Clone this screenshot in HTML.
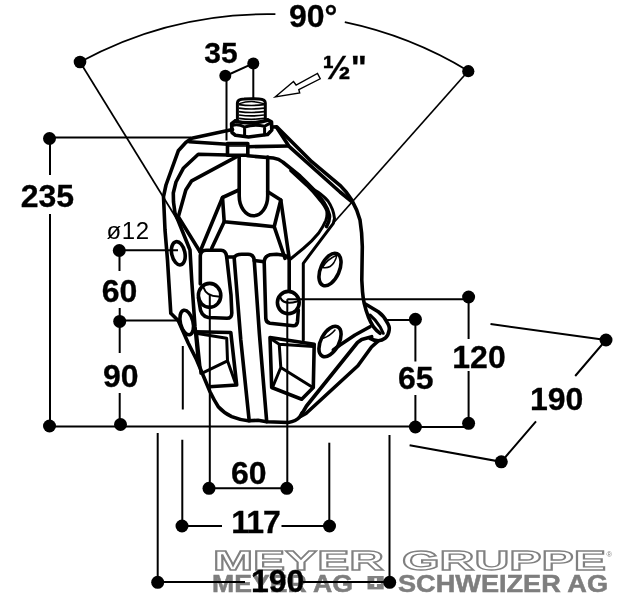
<!DOCTYPE html>
<html><head><meta charset="utf-8">
<style>
html,body{margin:0;padding:0;background:#fff;}
svg{display:block;will-change:transform;}
text{font-family:"Liberation Sans",sans-serif;}
.b{font-weight:bold;font-size:32px;fill:#000;stroke:#000;stroke-width:0.3px;}
.r{font-size:24px;fill:#000;letter-spacing:0.6px;}
.d{stroke:#000;stroke-width:2;fill:none;stroke-linecap:butt;}
.o{stroke:#000;stroke-width:3.6;fill:none;stroke-linejoin:round;stroke-linecap:round;}
.m{stroke:#000;stroke-width:3;fill:none;stroke-linejoin:round;stroke-linecap:round;}
.t{stroke:#000;stroke-width:1.5;fill:none;stroke-linejoin:round;stroke-linecap:round;}
.dot{fill:#000;}
</style></head><body>
<svg width="618" height="600" viewBox="0 0 618 600">
<rect width="618" height="600" fill="#fff"/>
<!-- LOGO -->
<g id="logo">
<g font-size="28" font-weight="bold" fill="#fff" stroke="#808080" stroke-width="1.3">
<text x="213" y="569.7" textLength="171" lengthAdjust="spacingAndGlyphs">MEYER</text>
<text x="402" y="569.7" textLength="204" lengthAdjust="spacingAndGlyphs">GRUPPE</text>
</g>
<text x="606.5" y="556.5" font-size="7.5" fill="#808080">®</text>
<g font-size="24" font-weight="bold" fill="#7e7e7e" stroke="#7e7e7e" stroke-width="0.5">
<text x="212" y="591.7" textLength="141" lengthAdjust="spacingAndGlyphs">MEYER AG</text>
<text x="398" y="591.7" textLength="210" lengthAdjust="spacingAndGlyphs">SCHWEIZER AG</text>
</g>
<rect x="367.5" y="576" width="16.2" height="13.4" fill="#828282"/>
<path d="M375.6 578.3 V587.1 M370.3 582.7 H380.9" stroke="#fff" stroke-width="2.6" fill="none"/>
</g>
<!-- DIMENSIONS -->
<g id="dims" class="d">
<path style="stroke-width:1.7" d="M80 62 A392.5 392.5 0 0 1 275.4 14.2"/>
<path style="stroke-width:1.7" d="M344.8 22.2 A392.5 392.5 0 0 1 468.3 71"/>
<path style="stroke-width:1.7" d="M80 62 L180.5 225"/>
<path style="stroke-width:1.7" d="M468.3 71 L333 223.5"/>
<path d="M225.5 76 L253.3 63.4"/>
<path d="M226.5 76 V140.5"/>
<path d="M253.3 63.4 V100"/>
<path d="M49.5 137.6 H191"/>
<path d="M50 138 V175 M50 214 V426"/>
<path d="M50 426.5 H415"/>
<path d="M119.5 250.3 H178"/>
<path d="M119.5 250.5 V271"/>
<path d="M119.7 308 V353 M119.7 393 V426"/>
<path d="M119.7 320.6 H180.5"/>
<path d="M182.8 346 V409.5 M182.3 439.8 V526"/>
<path d="M157.7 433 V582"/>
<path d="M209.8 295 V488.3 H287.3 V299.2"/>
<path d="M182 526 H222 M281.5 526 H329.5"/>
<path d="M329.3 442.7 V526"/>
<path d="M389.5 435 V582"/>
<path d="M157.7 582 H245 M303 582 H389.5"/>
<path d="M287.3 299.2 H468.6"/>
<path d="M468.6 297 V339 M468.6 371 V424"/>
<path d="M386.5 320 H415.4"/>
<path d="M415.4 319.3 V361.6 M415.4 395 V427"/>
<path d="M415 427 H468.6"/>
<path d="M490.5 324 L606 340 L575.2 376"/>
<path d="M536 421.3 L501.3 461.8 L409.6 445.2"/>
</g>
<g id="dots" class="dot">
<circle cx="80" cy="62" r="6.3"/><circle cx="468.3" cy="71.2" r="6.1"/>
<circle cx="225.3" cy="75.8" r="6"/><circle cx="253.3" cy="63.4" r="6"/>
<circle cx="49.5" cy="138.5" r="6.5"/><circle cx="49.5" cy="426" r="6.5"/>
<circle cx="119.3" cy="250.5" r="6.5"/><circle cx="119.7" cy="321.4" r="6.5"/><circle cx="120.5" cy="424.5" r="6.5"/>
<circle cx="209" cy="488.3" r="6.5"/><circle cx="286.8" cy="488.3" r="6.5"/>
<circle cx="182" cy="526" r="6.5"/><circle cx="329.5" cy="526" r="6.5"/>
<circle cx="157.7" cy="582.3" r="6.5"/><circle cx="389.7" cy="582.3" r="6.5"/>
<circle cx="468.6" cy="297" r="6.5"/><circle cx="468.6" cy="423.3" r="6.5"/>
<circle cx="415.4" cy="319.3" r="6.5"/><circle cx="415.4" cy="427" r="6.5"/>
<circle cx="606" cy="340" r="6.5"/><circle cx="501.3" cy="461.8" r="6.5"/>
</g>
<path d="M275.1 97 L293.5 81.5 L296.1 85 L317.5 73.5 L320.2 78.8 L298.8 89.5 L299.7 93 Z" fill="#fff" stroke="#000" stroke-width="1.4" stroke-linejoin="miter"/>
<g id="labels">
<text class="b" x="289" y="26.5">90°</text>
<text class="b" x="204.3" y="62.5" style="font-size:30px">35</text>
<text class="b" x="322.5" y="79" style="font-size:34px">½"</text>
<text class="b" x="20.7" y="207.4">235</text>
<text class="r" x="106.5" y="238.5">ø12</text>
<text class="b" x="101.8" y="301.7">60</text>
<text class="b" x="103" y="386.8">90</text>
<text class="b" x="231" y="483.5">60</text>
<text class="b" x="231.3" y="533.2" style="letter-spacing:-1.1px">117</text>
<text class="b" x="251" y="592">190</text>
<text class="b" x="398" y="389.4">65</text>
<text class="b" x="452.3" y="367.6">120</text>
<text class="b" x="530" y="409.8">190</text>
</g>
<!-- OBJECT -->
<g id="obj">
<!-- fitting -->
<path class="m" d="M237.4 121 V103 Q237.4 99.2 244 99 Q251.4 98.6 259 99 Q265.3 99.2 265.3 103 V120.5"/>
<path class="t" d="M239.3 103.6 Q251.5 99.6 263.6 103.6"/>
<path d="M239 104.6 Q251.5 106.4 264 104.6 M239 108.1 Q251.5 109.9 264 108.1 M239 111.6 Q251.5 113.4 264 111.6 M239 115 Q251.5 116.8 264 115 M239 118.4 Q251.5 120.2 264 118.4" stroke="#000" stroke-width="1.7" fill="none"/>
<!-- nut -->
<path class="o" d="M235.5 120.8 L231.6 123.8 L232 132.5 L235.5 135.3 L248.5 137 L267.6 134.5 L271.8 130 L271.5 121.8 L267.6 119.8"/>
<path class="o" d="M235.5 121.2 Q251 125 267.6 120.2"/>
<path class="m" d="M232.6 125.4 Q238 123.8 244.6 127 Q254 124 264.6 126.2 Q268 124.2 271 123 M244.6 127 V136.3 M264.6 126.2 V134.8"/>
<!-- left outer edge + bottom -->
<path class="o" d="M232.5 129.6 L191.7 138.3 L185.8 142.5 L178.3 150.8 L166 185 L163.5 196.7 L165 230 L167.5 260 L170.8 313.3 L178.3 320.8 L188.3 343.3 L196.7 360 L210 391.7 Q214 400 218.3 406.7 Q224 413 231.7 416.7 Q240 420 248.3 420.8 L258 420.3 L266.7 421.7 L288.3 422.5 Q296 421.5 300 416.7 L302 413"/>
<!-- crossbar -->
<path class="o" d="M189.2 141.7 L227.5 144.2"/>
<path class="o" d="M227.5 143.6 H247.8 V155.3 H227.5 Z"/>
<path class="t" d="M229 146 H246.5"/>
<path class="o" d="M247.8 146.7 L288 146"/>
<!-- left arm inner line -->
<path class="o" d="M227.5 155 L198.3 154.2 L183.3 168.3 L176 182 L173.3 193 L173.5 202 L175 213.3 L178.3 221 L190 250 L191.7 280 L195 326.7 L198.3 360"/>
<!-- diag line left of opening -->
<path class="o" d="M236.7 156.7 L191.7 180.8 L185.8 190 L178.3 216.7 L200 251.7"/>
<!-- stem -->
<path class="o" d="M239.2 156 V196 A14.25 19.8 0 0 0 267.7 196 V157"/>
<!-- funnel -->
<path class="o" d="M200 251.7 L222.5 197.5 L238.8 190"/>
<path class="o" d="M222.5 197.5 L224.2 221.7 L274.2 226.7"/>
<path class="o" d="M224.2 221.7 L211.7 248.3"/>
<path class="o" d="M267.8 191.7 L280.8 200 L274.2 226.7 L285 258.3"/>
<path class="o" d="M280.8 200 L289.2 258.3"/>
<!-- right crossbar bottom + inner curves -->
<path class="o" d="M247.8 155.8 L273.3 158 Q279 158.8 282.7 162 L300 176 Q307 182.5 313.3 189.3 Q319.5 196 324 202.7 Q328 209 329.3 214.7 Q330.3 220 326.5 226.5"/>
<path class="m" d="M290.7 170.7 L306.7 185.3 Q313.5 192 318.7 198.7 Q324.5 205 326.7 210.7 Q327.6 216 325.8 220.5 Q323 227 318.5 233.3 Q312 241.5 303.3 248.5 L290.5 259"/>
<path class="m" d="M313.3 189.3 Q322 194 328 201 Q333.5 209 334.5 218.3 L333.3 223.3 L303.3 263.3 V340"/>
<!-- right arm outer -->
<path class="o" d="M272.5 127 L276.7 126.7 L311.7 161.7 L340 185.3 Q347 192 351.7 200 Q357.5 210 360 220 Q362 232 362.3 246.7 L361.8 280 L362.5 291.7 Q363 298 364.2 303.3 Q365.8 310 368.3 316.7 Q370.5 322 373.3 326.7 Q377 331.5 380 333.3"/>
<path class="o" d="M276.7 127.5 L289.3 146.7 L340 192 L351.7 201.7"/>
<!-- lug -->
<path class="o" d="M365.8 304.2 L378.3 311.7 Q384 316 386.7 321.7 Q390 326.5 389.2 330 Q388.5 335.5 385 338.3 Q382 340.5 378.3 340.8 Q374 340.5 370 338.3"/>
<path class="m" d="M370 315 Q376 320 380 326.7 L383.3 333.3"/>
<!-- flap -->
<path class="o" d="M370 326.7 L355 335 L340 345 L333.3 350"/>
<path class="o" d="M371.7 336.7 L361.7 339.5 L357.5 342.5 L306.5 406 L301.5 414.5"/>
<path class="o" d="M378.3 340.8 L371.5 347 L357.9 365.7 L306 413.5 L300.5 416.5"/>
<!-- ribs -->
<path class="o" d="M200.3 284 V256 Q200.5 250.5 206 250.3 H221 Q226 250.5 226.7 257 L231 295 L231.8 313 Q231.8 318.3 227 318.3 L208.3 317.5 Q200.5 316 199.8 306 L198.5 298"/>
<path class="o" d="M226.7 257 H234.2"/>
<path class="o" d="M249.2 420.8 L240.8 340 L234.2 258.3 Q234.5 254.5 241.7 254.2 H248 Q253.8 254.5 254.2 260 L259.4 334 L266.7 421.7"/>
<path class="o" d="M254.2 260.5 L264.2 261.7"/>
<path class="o" d="M298.3 310 L297.5 321.7 Q297 325.8 293.3 325.8 L270 323.3 Q266 322.5 265.8 318.3 L264.2 262 Q264.5 256.3 270 254.8 L276.7 254.2 L284 255.3 Q288.8 256.5 289.2 260 V290"/>
<!-- pins -->
<ellipse class="o" cx="209.6" cy="295.4" rx="11.2" ry="12"/>
<path class="t" style="stroke-width:2" d="M203.5 287.5 Q206.5 296.8 219 296.5"/>
<ellipse class="o" cx="288.3" cy="302.6" rx="10.9" ry="11.2"/>
<path class="t" style="stroke-width:2" d="M280.3 297.5 Q283.5 305.3 297 301.5"/>
<!-- holes -->
<ellipse class="o" cx="178.3" cy="253.3" rx="6.6" ry="11.8" transform="rotate(-12 178.3 253.3)"/>
<ellipse class="o" cx="186.7" cy="322.5" rx="6.3" ry="12.5" transform="rotate(-14 186.7 322.5)"/>
<ellipse class="o" cx="330" cy="269.5" rx="9.3" ry="17.3" transform="rotate(24 330 269.5)"/>
<path class="t" d="M337 255 Q326 260 322.6 267.5 Q330 268.8 334 262.5 Q336.5 258 337 255"/>
<ellipse class="o" cx="330" cy="341.5" rx="9" ry="16.5" transform="rotate(28 330 341.5)"/>
<path class="t" d="M323.3 338.3 Q330 336 335 330"/>
<!-- scoop left -->
<path class="o" d="M195 331.7 L230.8 332.5 L236.7 385 L209.2 386.7"/>
<path class="m" d="M197.5 333.5 L226.7 338.3 L227.5 360.8 L201.7 373.3 M227.5 360.8 L235.8 384.2"/>
<path class="m" d="M196.7 333.3 L200.8 373.3"/>
<!-- scoop right -->
<path class="o" d="M270 337.5 L314.2 344.2 L313.3 387.5 L301.7 399.2 L271.7 387.5 Z"/>
<path class="m" d="M270.5 338.5 L279.2 344.2 L313.5 346.5 M279.2 344.2 L280.8 367.5 L272.5 387.5 M280.8 367.5 L311.7 386.7"/>
</g>
</svg>
</body></html>
